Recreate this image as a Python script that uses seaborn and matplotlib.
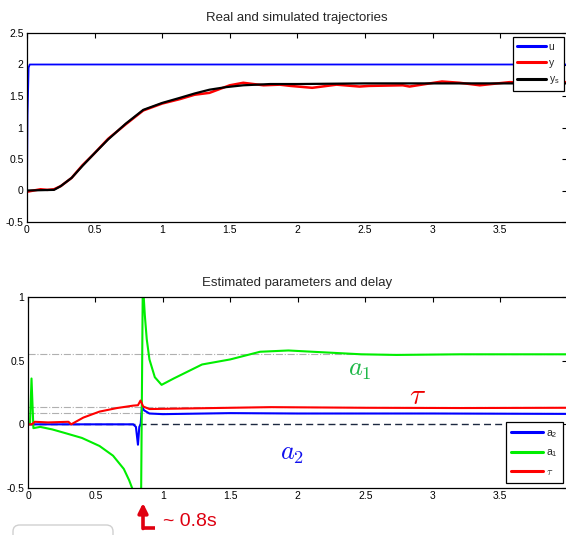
import numpy as np
import pandas as pd
import matplotlib
matplotlib.use("Agg")
import matplotlib.pyplot as plt
from matplotlib.lines import Line2D
from matplotlib.patches import FancyBboxPatch
import seaborn as sns

# --- top panel: real and simulated trajectories ---
t_u = [0.0, 0.004, 0.012, 0.02, 3.99]
u = [0.0, 1.2, 1.95, 2.0, 2.0]

t_ys = [0.0, 0.2, 0.25, 0.33, 0.41, 0.49, 0.6, 0.73, 0.86, 1.0, 1.13, 1.24, 1.35,
        1.47, 1.6, 1.8, 2.0, 2.5, 3.0, 3.5, 3.99]
ys = [0.0, 0.01, 0.07, 0.2, 0.39, 0.57, 0.81, 1.06, 1.28, 1.39, 1.47, 1.54, 1.6,
      1.64, 1.67, 1.69, 1.69, 1.7, 1.7, 1.7, 1.7]

t_y = [0.0, 0.05, 0.1, 0.15, 0.2, 0.25, 0.33, 0.41, 0.49, 0.6, 0.73, 0.86, 1.0, 1.13,
       1.24, 1.35, 1.5, 1.6, 1.75, 1.87, 1.95, 2.11, 2.29, 2.46, 2.53, 2.78, 2.83,
       3.07, 3.2, 3.35, 3.57, 3.75, 3.99]
y = [-0.02, 0.0, 0.02, 0.01, 0.02, 0.07, 0.2, 0.4, 0.57, 0.82, 1.05, 1.27, 1.38, 1.45,
     1.52, 1.55, 1.67, 1.71, 1.67, 1.68, 1.66, 1.63, 1.68, 1.65, 1.66, 1.67, 1.65,
     1.73, 1.71, 1.67, 1.72, 1.71, 1.72]

# --- bottom panel: estimated parameters and delay ---
t_a1 = [0.0, 0.015, 0.026, 0.04, 0.09, 0.18, 0.27, 0.4, 0.53, 0.63, 0.71, 0.75, 0.775,
        0.79, 0.83, 0.838, 0.85, 0.856, 0.866, 0.88, 0.9, 0.94, 0.99, 1.08, 1.29,
        1.5, 1.72, 1.93, 2.2, 2.47, 2.73, 3.2, 3.99]
a1 = [0.0, 0.0, 0.36, -0.03, -0.02, -0.04, -0.067, -0.107, -0.17, -0.246, -0.35,
      -0.44, -0.51, -1.5, -1.5, -0.6, 1.0, 1.03, 0.855, 0.67, 0.51, 0.37, 0.31, 0.36,
      0.47, 0.51, 0.57, 0.58, 0.565, 0.55, 0.545, 0.55, 0.55]

t_a2 = [0.0, 0.78, 0.8, 0.815, 0.825, 0.835, 0.845, 0.86, 0.9, 1.0, 1.5, 2.0, 3.0, 3.99]
a2 = [0.0, 0.0, -0.02, -0.16, -0.02, 0.0, 0.14, 0.11, 0.085, 0.08, 0.088, 0.085, 0.085, 0.082]

t_tau = [0.0, 0.03, 0.05, 0.15, 0.3, 0.32, 0.41, 0.53, 0.66, 0.78, 0.815, 0.834, 0.854,
         0.9, 1.2, 1.8, 2.5, 3.2, 3.99]
tau = [0.0, 0.0, 0.02, 0.015, 0.02, 0.0, 0.053, 0.1, 0.128, 0.147, 0.15, 0.187, 0.14,
       0.12, 0.125, 0.135, 0.13, 0.128, 0.13]

ref_levels = [0.556, 0.134, 0.088]

W, H = 566, 535
fig = plt.figure(figsize=(W / 100, H / 100), dpi=100)
sns.set_style("white")
plt.rcParams["font.family"] = ["Liberation Sans", "DejaVu Sans"]
plt.rcParams["mathtext.fontset"] = "cm"


def px_axes(left, top, right, bottom):
    return fig.add_axes([left / W, 1 - bottom / H, (right - left) / W, (bottom - top) / H])


def style(ax, ylim, yticks, ylabels):
    ax.set_xlim(0, 3.995)
    ax.set_ylim(*ylim)
    ax.set_xticks([0, 0.5, 1, 1.5, 2, 2.5, 3, 3.5])
    ax.set_xticklabels(["0", "0.5", "1", "1.5", "2", "2.5", "3", "3.5"])
    ax.set_yticks(yticks)
    ax.set_yticklabels(ylabels)
    ax.tick_params(direction="in", top=True, right=True, length=3.5, width=0.8,
                   labelsize=7.5, pad=2.5, colors="black")
    for s in ax.spines.values():
        s.set_color("black")
        s.set_linewidth(0.9)
        s.set_visible(True)
    ax.set_xlabel("")
    ax.set_ylabel("")


ax1 = px_axes(27, 33, 567, 222)
sns.lineplot(x=t_u, y=u, ax=ax1, color="#0000ff", lw=1.3, label="u")
sns.lineplot(x=t_y, y=y, ax=ax1, color="#ff0000", lw=1.8, label="y")
sns.lineplot(x=t_ys, y=ys, ax=ax1, color="black", lw=1.6, label=r"$\mathregular{y_s}$")
style(ax1, (-0.5, 2.5), [-0.5, 0, 0.5, 1, 1.5, 2, 2.5],
      ["-0.5", "0", "0.5", "1", "1.5", "2", "2.5"])
ax1.set_title("Real and simulated trajectories", fontsize=9.5, pad=9)
leg1 = ax1.legend(loc="upper right", bbox_to_anchor=(564 / W, 1 - 37 / H),
                  bbox_transform=fig.transFigure, fontsize=7.5, handlelength=2.7,
                  handletextpad=0.3, borderpad=0.45, labelspacing=0.6,
                  fancybox=False, framealpha=1, edgecolor="black", borderaxespad=0)
leg1.get_frame().set_linewidth(0.9)
for line in leg1.get_lines():
    line.set_linewidth(2.2)

ax2 = px_axes(28, 297, 567, 488)
for lvl in ref_levels:
    ax2.axhline(lvl, color="#b0b0b0", lw=0.8, ls="-.", zorder=1)
ax2.plot([0, 3.7], [0, 0], color="#1c2840", lw=1.0, ls=(0, (5, 3)), zorder=1)
sns.lineplot(x=t_a2, y=a2, ax=ax2, color="#0000ff", lw=1.5, label=r"$\mathregular{a_2}$")
sns.lineplot(x=t_a1, y=a1, ax=ax2, color="#00ee00", lw=1.5, label=r"$\mathregular{a_1}$")
sns.lineplot(x=t_tau, y=tau, ax=ax2, color="#ff0000", lw=1.5, label=r"$\tau$")
style(ax2, (-0.5, 1.0), [-0.5, 0, 0.5, 1], ["-0.5", "0", "0.5", "1"])
ax2.set_title("Estimated parameters and delay", fontsize=9.5, pad=8)
leg2 = ax2.legend(loc="upper right", bbox_to_anchor=(563 / W, 1 - 422 / H),
                  bbox_transform=fig.transFigure, fontsize=7.5, handlelength=3.0,
                  handletextpad=0.3, borderpad=0.55, labelspacing=0.75,
                  fancybox=False, framealpha=1, edgecolor="black", borderaxespad=0)
leg2.get_frame().set_linewidth(0.9)
for line in leg2.get_lines():
    line.set_linewidth(2.2)

ax2.text(2.46, 0.43, "$a_1$", color="#1fb848", fontsize=19, ha="center", va="center")
ax2.text(2.89, 0.22, r"$\tau$", color="#ee0000", fontsize=21, ha="center", va="center")
ax2.text(1.96, -0.23, "$a_2$", color="#1010ee", fontsize=19, ha="center", va="center")

# annotation under the axis
px = fig.dpi_scale_trans
ax2.annotate("", xy=(1.43, 0.32), xytext=(1.43, 0.065), xycoords=px, textcoords=px,
             arrowprops=dict(arrowstyle="-|>", color="#e00010", lw=2.6,
                             mutation_scale=14, shrinkA=0, shrinkB=0))
fig.add_artist(Line2D([1.43, 1.545], [0.075, 0.075], color="#e00010", lw=2.6,
                      transform=px, solid_capstyle="butt"))
fig.text(163 / W, 14 / H, "~ 0.8s", color="#dd0010", fontsize=14,
         family=["Liberation Sans", "DejaVu Sans"], va="center", ha="left")

fig.add_artist(FancyBboxPatch((13 / W, -10 / H), 100 / W, 20 / H,
                              boxstyle="round,pad=0,rounding_size=0.012",
                              transform=fig.transFigure, fc="white",
                              ec="#d0d0d0", lw=1.0))

fig.savefig("out.png", dpi=100)
